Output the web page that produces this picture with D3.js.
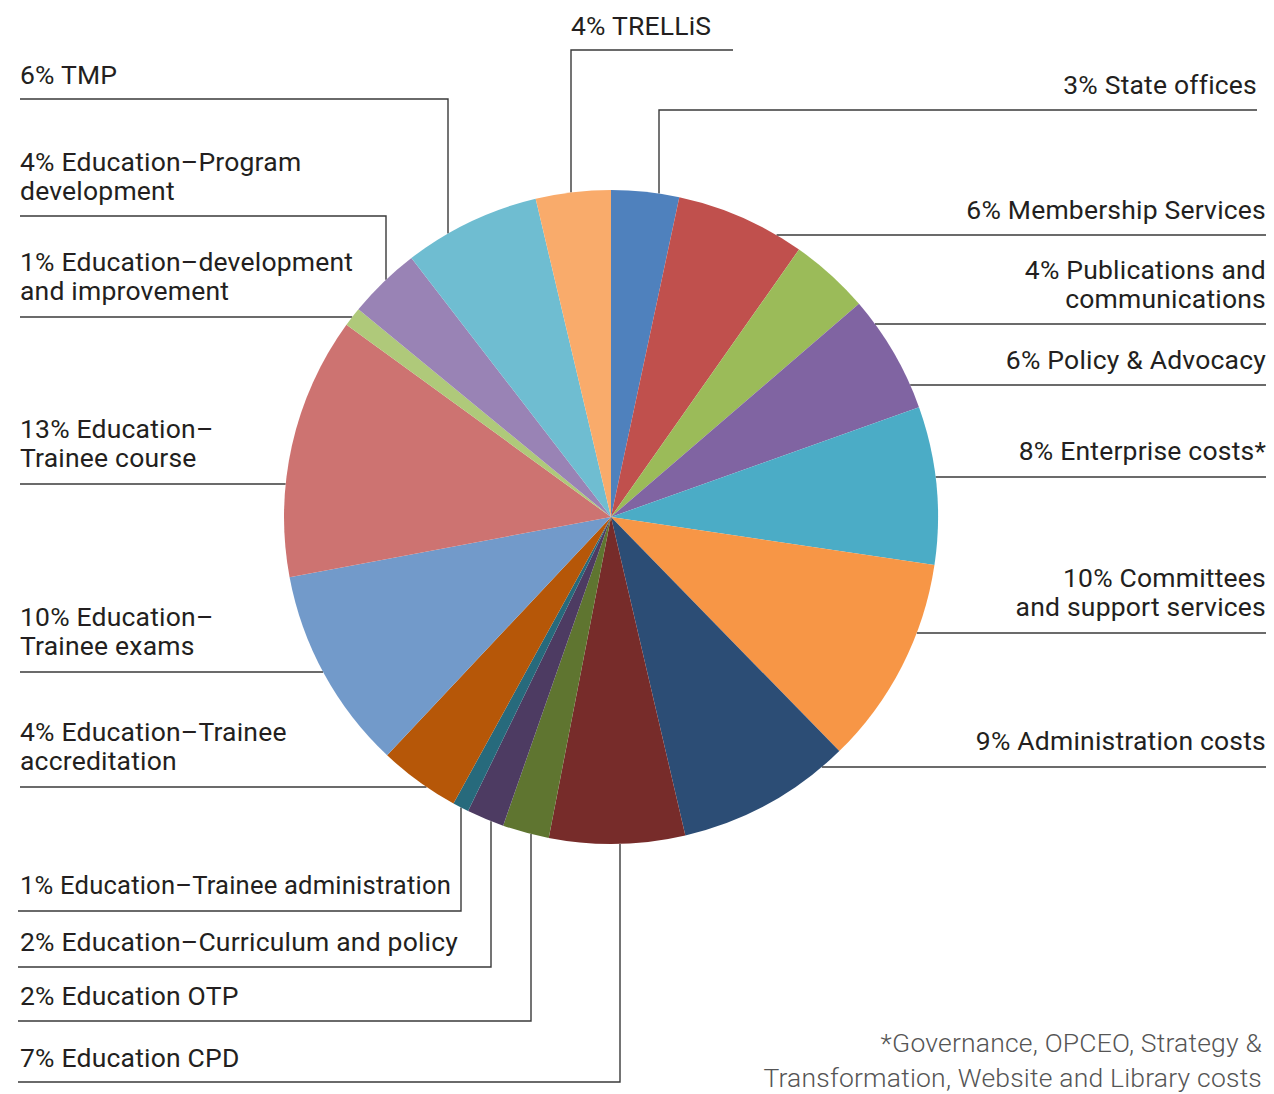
<!DOCTYPE html>
<html>
<head>
<meta charset="utf-8">
<script src="https://cdn.jsdelivr.net/npm/d3@7"></script>
<style>
  html, body { margin: 0; padding: 0; background: #fff; }
  svg { display: block; }
  .lbl { font-family: Roboto, "Open Sans", sans-serif; font-size: 26.5px; letter-spacing: 0.2px; fill: #231f20; }
  .note { font-family: Roboto, sans-serif; font-weight: 300; font-size: 26.5px; letter-spacing: 0.2px; fill: #555; }
  .leader { fill: none; stroke: #3a3a3a; stroke-width: 1.4; }
</style>
</head>
<body>
<svg id="chart"></svg>
<script>
// ---- data (clockwise from 12 o'clock) ----
const categories = [
  'State offices', 'Membership Services', 'Publications and\ncommunications',
  'Policy & Advocacy', 'Enterprise costs*', 'Committees\nand support services',
  'Administration costs', 'Education CPD', 'Education OTP',
  'Education–Curriculum and policy', 'Education–Trainee administration',
  'Education–Trainee\naccreditation', 'Education–\nTrainee exams',
  'Education–\nTrainee course', 'Education–development\nand improvement',
  'Education–Program\ndevelopment', 'TMP', 'TRELLiS'
];
// slice shares (%)
const shares = [3.35, 6.4, 3.95, 5.85, 7.8, 10.35, 8.65, 6.7, 2.3, 1.85, 0.8, 4.0, 10.05, 12.95, 0.95, 3.6, 6.75, 3.7];
// printed percentages
const pctLabels = ['3%', '6%', '4%', '6%', '8%', '10%', '9%', '7%', '2%', '2%', '1%', '4%', '10%', '13%', '1%', '4%', '6%', '4%'];
const colors = [
  '#4f81bd', '#c0504d', '#9bbb59', '#8064a2', '#4bacc6', '#f79646',
  '#2c4d75', '#772c2a', '#5f7530', '#4d3b62', '#276a7c', '#b65708',
  '#729aca', '#cd7371', '#afc97a', '#9983b5', '#6fbdd1', '#f9ab6b'
];
const footnote = ['*Governance, OPCEO, Strategy &', 'Transformation, Website and Library costs'];

// ---- layout ----
const W = 1274, H = 1094;
const cx = 611, cy = 517, R = 327;
const LH = 29;

// label placement: text anchor x, first baseline, leader y, far end x, optional vertical x
const labelLayout = [
  { anchor: 'end',   x: 1257, y: 94,   ly: 110,  far: 1257, vx: 659 },
  { anchor: 'end',   x: 1266, y: 219,  ly: 235,  far: 1266 },
  { anchor: 'end',   x: 1266, y: 279,  ly: 324,  far: 1266 },
  { anchor: 'end',   x: 1266, y: 369,  ly: 385,  far: 1266 },
  { anchor: 'end',   x: 1266, y: 460,  ly: 477,  far: 1266 },
  { anchor: 'end',   x: 1266, y: 587,  ly: 633,  far: 1266 },
  { anchor: 'end',   x: 1266, y: 750,  ly: 767,  far: 1266 },
  { anchor: 'start', x: 20,   y: 1067, ly: 1082, far: 18,  vx: 620 },
  { anchor: 'start', x: 20,   y: 1005, ly: 1021, far: 18,  vx: 531 },
  { anchor: 'start', x: 20,   y: 951,  ly: 967,  far: 18,  vx: 491 },
  { anchor: 'start', x: 20,   y: 894,  ly: 911,  far: 18,  vx: 461, fit: 431 },
  { anchor: 'start', x: 20,   y: 741,  ly: 787,  far: 20 },
  { anchor: 'start', x: 20,   y: 626,  ly: 672,  far: 20 },
  { anchor: 'start', x: 20,   y: 438,  ly: 484,  far: 20 },
  { anchor: 'start', x: 20,   y: 271,  ly: 317,  far: 20 },
  { anchor: 'start', x: 20,   y: 171,  ly: 216,  far: 20,  vx: 386 },
  { anchor: 'start', x: 20,   y: 84,   ly: 99,   far: 20,  vx: 448 },
  { anchor: 'start', x: 571,  y: 35,   ly: 50,   far: 733, vx: 571 }
];

const svg = d3.select('#chart').attr('width', W).attr('height', H);

const items = categories.map((c, i) => ({
  name: c, value: shares[i], pct: pctLabels[i], color: colors[i], lay: labelLayout[i]
}));

const pie = d3.pie().sort(null).value(d => d.value).startAngle(0).endAngle(2 * Math.PI);
const arc = d3.arc().innerRadius(0).outerRadius(R);

// where a leader meets the rim of the pie
function edgeAtY(y, side) { return cx + side * Math.sqrt(Math.max(0, R * R - (y - cy) ** 2)); }
function edgeAtX(x, below) { return cy + (below ? 1 : -1) * Math.sqrt(Math.max(0, R * R - (x - cx) ** 2)); }

const line = d3.line();
svg.append('g').selectAll('path')
  .data(items)
  .join('path')
  .attr('class', 'leader')
  .attr('d', d => {
    const L = d.lay;
    if (L.vx != null) {
      return line([[L.far, L.ly], [L.vx, L.ly], [L.vx, edgeAtX(L.vx, L.ly > cy)]]);
    }
    const side = L.anchor === 'end' ? 1 : -1;
    return line([[L.far, L.ly], [edgeAtY(L.ly, side), L.ly]]);
  });

// slices
svg.append('g')
  .attr('transform', `translate(${cx},${cy})`)
  .selectAll('path')
  .data(pie(items))
  .join('path')
  .attr('d', arc)
  .attr('fill', d => d.data.color);

// labels
const lbl = svg.append('g').selectAll('text')
  .data(items)
  .join('text')
  .attr('class', 'lbl')
  .attr('text-anchor', d => d.lay.anchor)
  .attr('x', d => d.lay.x)
  .attr('y', d => d.lay.y);

lbl.selectAll('tspan')
  .data(d => (d.pct + ' ' + d.name).split('\n').map((t, k) => ({ t, k, x: d.lay.x, fit: d.lay.fit })))
  .join('tspan')
  .attr('x', d => d.x)
  .attr('dy', d => d.k ? LH : 0)
  .text(d => d.t)
  .each(function (d) {
    // squeeze a label that would run past its leader
    if (d.fit && this.getComputedTextLength() > d.fit) {
      d3.select(this).attr('textLength', d.fit).attr('lengthAdjust', 'spacingAndGlyphs');
    }
  });

// footnote
svg.append('text')
  .attr('class', 'note')
  .attr('text-anchor', 'end')
  .selectAll('tspan')
  .data(footnote)
  .join('tspan')
  .attr('x', 1262)
  .attr('y', (d, i) => 1052 + i * 35)
  .text(d => d);
</script>
</body>
</html>
